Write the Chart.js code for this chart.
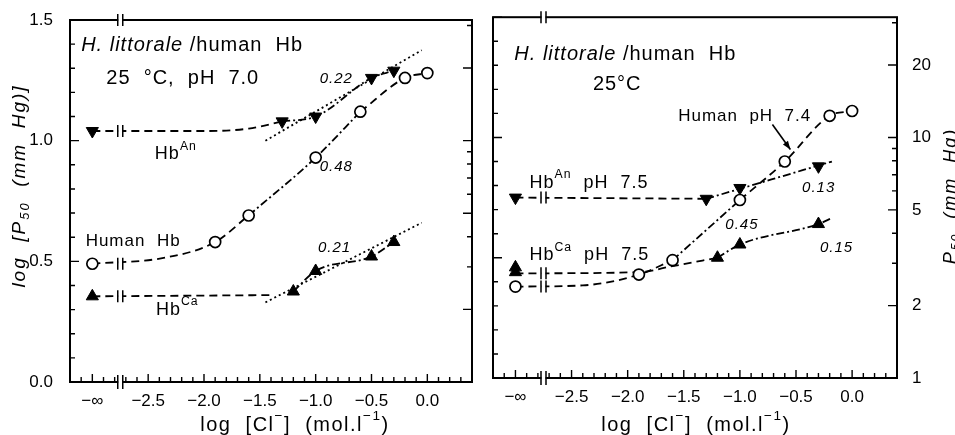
<!DOCTYPE html>
<html>
<head>
<meta charset="utf-8">
<script src="https://cdn.jsdelivr.net/npm/chart.js@4.4.0/dist/chart.umd.min.js"></script>
<style>
html, body { margin: 0; padding: 0; background: #fff; }
#wrap { position: relative; width: 955px; height: 435px; overflow: hidden; }
canvas { position: absolute; top: 0; }
#left { left: 0; }
#right { left: 480px; }
</style>
</head>
<body>
<div id="wrap">
  <canvas id="left" width="480" height="435"></canvas>
  <canvas id="right" width="475" height="435"></canvas>
</div>
<script>
// x = log [Cl-]; NEG_INF is where "-infinity" (no chloride) is plotted
const NEG_INF = -3.0;
const BREAK_X = -2.75;

const xTickValues = [-3.0, -2.5, -2.0, -1.5, -1.0, -0.5, 0.0];
const xTickLabels = ['\u2212\u221e', '\u22122.5', '\u22122.0', '\u22121.5', '\u22121.0', '\u22120.5', '0.0'];
const yTickValues = [0.0, 0.5, 1.0, 1.5];
const yTickLabels = ['0.0', '0.5', '1.0', '1.5'];
const p50TickValues = [1, 2, 5, 10, 20];
const p50TickLabels = ['1', '2', '5', '10', '20'];

// ---- left panel: 25 C, pH 7.0 ----
// HbAn (filled, pointing down)
const anL_x = [NEG_INF, -1.3, -1.0, -0.5, -0.3];
const anL_y = [1.04, 1.08, 1.10, 1.26, 1.29];
// human Hb (open circles)
const huL_x = [NEG_INF, -1.9, -1.6, -1.0, -0.6, -0.2, 0.0];
const huL_y = [0.49, 0.58, 0.69, 0.93, 1.12, 1.26, 1.28];
// HbCa (filled, pointing up)
const caL_x = [NEG_INF, -1.2, -1.0, -0.5, -0.3];
const caL_y = [0.355, 0.375, 0.46, 0.52, 0.58];

// drawn curves
const anL_dashX = [NEG_INF, -2.0, -1.6, -1.3];
const anL_dashY = [1.04, 1.04, 1.05, 1.08];
const anL_fitX = [-1.3, -1.0, -0.5, -0.3];
const anL_fitY = [1.08, 1.10, 1.26, 1.29];
const anL_regX = [-1.45, -0.05];
const anL_regY = [1.00, 1.375];

const huL_dashX = [NEG_INF, -2.35, -1.9, -1.6];
const huL_dashY = [0.49, 0.515, 0.58, 0.69];
const huL_fitX = [-1.6, -1.0, -0.6];
const huL_fitY = [0.69, 0.93, 1.12];
const huL_dash2X = [-0.6, -0.2, 0.0];
const huL_dash2Y = [1.12, 1.26, 1.28];

const caL_dashX = [NEG_INF, -1.4];
const caL_dashY = [0.355, 0.36];
const caL_fitX = [-1.2, -1.0, -0.5, -0.3];
const caL_fitY = [0.375, 0.46, 0.52, 0.58];
const caL_regX = [-1.45, -0.05];
const caL_regY = [0.33, 0.66];

// ---- right panel: 25 C, HbAn/HbCa pH 7.5, human pH 7.4 ----
const anR_x = [NEG_INF, -1.3, -1.0, -0.3];
const anR_y = [0.75, 0.745, 0.79, 0.88];
const huR_x = [NEG_INF, -1.9, -1.6, -1.0, -0.6, -0.2, 0.0];
const huR_y = [0.38, 0.43, 0.49, 0.74, 0.90, 1.09, 1.11];
const caR_x = [NEG_INF, NEG_INF, -1.2, -1.0, -0.3];
const caR_y = [0.46, 0.44, 0.50, 0.555, 0.64];

const anR_dashX = [NEG_INF, -1.3];
const anR_dashY = [0.75, 0.745];
const anR_fitX = [-1.3, -0.18];
const anR_fitY = [0.745, 0.90];

const huR_dashX = [NEG_INF, -2.4, -1.9, -1.6];
const huR_dashY = [0.38, 0.385, 0.43, 0.49];
const huR_fitX = [-1.6, -1.0];
const huR_fitY = [0.49, 0.74];
const huR_dash2X = [-1.0, -0.6, -0.2, 0.0];
const huR_dash2Y = [0.74, 0.90, 1.09, 1.11];

const caR_dashX = [NEG_INF, -1.9, -1.6, -1.2];
const caR_dashY = [0.435, 0.44, 0.465, 0.50];
const caR_fitX = [-1.2, -1.0, -0.3, -0.18];
const caR_fitY = [0.50, 0.555, 0.64, 0.665];

const FONT = '"Liberation Sans", Arial, Helvetica, sans-serif';
const DASH = [8, 5];
const DASHDOT = [8, 3, 2, 3];
const DOT = [2, 3];

function pts(xs, ys) {
    return xs.map((x, i) => ({ x: x, y: ys[i] }));
}

function curve(xs, ys, dash, brk) {
    return {
        data: pts(xs, ys),
        showLine: true,
        borderColor: '#000',
        borderWidth: 1.8,
        borderDash: dash,
        pointRadius: 0,
        cubicInterpolationMode: 'monotone',
        order: 2,
        brk: !!brk
    };
}

function markers(xs, ys, kind) {
    const ds = {
        data: pts(xs, ys),
        borderColor: '#000',
        borderWidth: 1.7,
        order: 1
    };
    if (kind === 'circle') {
        ds.pointStyle = 'circle';
        ds.pointRadius = 5.5;
        ds.backgroundColor = '#fff';
    } else {
        ds.pointStyle = 'triangle';
        ds.pointRadius = 7;
        ds.backgroundColor = '#000';
        ds.borderWidth = 1;
        ds.rotation = kind === 'down' ? 180 : 0;
    }
    return ds;
}

// text with italic / sup / sub parts
function drawRich(ctx, x, y, segs, size, align) {
    let w = 0;
    const parts = segs.map(s => {
        const sz = (s.sup || s.sub) ? size * 0.68 : size;
        const f = (s.it ? 'italic ' : '') + sz + 'px ' + FONT;
        ctx.font = f;
        const pw = ctx.measureText(s.t).width;
        w += pw;
        return { s: s, f: f, w: pw };
    });
    let cx = align === 'center' ? x - w / 2 : x;
    ctx.textBaseline = 'middle';
    ctx.textAlign = 'left';
    parts.forEach(p => {
        ctx.font = p.f;
        let dy = 0;
        if (p.s.sup) dy = -size * 0.42;
        if (p.s.sub) dy = size * 0.3;
        ctx.fillText(p.s.t, cx, y + dy);
        cx += p.w;
    });
}

function drawBreak(ctx, px, py, h) {
    ctx.save();
    ctx.fillStyle = '#fff';
    ctx.fillRect(px - 2, py - h / 2, 4, h);
    ctx.strokeStyle = '#000';
    ctx.lineWidth = 1.5;
    ctx.setLineDash([]);
    ctx.beginPath();
    ctx.moveTo(px - 2.5, py - h / 2); ctx.lineTo(px - 2.5, py + h / 2);
    ctx.moveTo(px + 2.5, py - h / 2); ctx.lineTo(px + 2.5, py + h / 2);
    ctx.stroke();
    ctx.restore();
}

const panelDeco = {
    id: 'panelDeco',
    afterDatasetsDraw(chart, args, opts) {
        const { ctx, chartArea: a, scales } = chart;
        const sx = scales.x, sy = scales.y, sl = scales.yLog;
        ctx.save();
        ctx.strokeStyle = '#000';
        ctx.fillStyle = '#000';
        ctx.setLineDash([]);

        // frame
        ctx.lineWidth = 2;
        ctx.strokeRect(a.left, a.top, a.right - a.left, a.bottom - a.top);

        // inward ticks
        ctx.lineWidth = 1.4;
        ctx.beginPath();
        sx.ticks.forEach(t => {
            const px = sx.getPixelForValue(t.value);
            const major = xTickValues.some(v => Math.abs(v - t.value) < 1e-6);
            ctx.moveTo(px, a.bottom);
            ctx.lineTo(px, a.bottom - (major ? 8 : 5));
        });
        sy.ticks.forEach(t => {
            const py = sy.getPixelForValue(t.value);
            const major = yTickValues.some(v => Math.abs(v - t.value) < 1e-6);
            ctx.moveTo(a.left, py);
            ctx.lineTo(a.left + (major ? 9 : 5), py);
        });
        sl.ticks.forEach(t => {
            const py = sl.getPixelForValue(t.value);
            const major = p50TickValues.indexOf(t.value) >= 0;
            ctx.moveTo(a.right, py);
            ctx.lineTo(a.right - (major ? 9 : 5), py);
        });
        ctx.stroke();

        // axis breaks
        const bx = sx.getPixelForValue(BREAK_X);
        drawBreak(ctx, bx, a.bottom, 14);
        drawBreak(ctx, bx, a.top, 12);

        // breaks on the curves that start at -infinity
        chart.data.datasets.forEach(ds => {
            if (ds.brk) drawBreak(ctx, bx, sy.getPixelForValue(ds.data[0].y), 12);
        });

        // text labels
        ctx.letterSpacing = '1px';
        (opts.notes || []).forEach(n => {
            drawRich(ctx, sx.getPixelForValue(n.x), sy.getPixelForValue(n.y), n.segs, n.size, 'left');
        });

        // arrows
        (opts.arrows || []).forEach(ar => {
            const x1 = sx.getPixelForValue(ar.x1), y1 = sy.getPixelForValue(ar.y1);
            const x2 = sx.getPixelForValue(ar.x2), y2 = sy.getPixelForValue(ar.y2);
            const ang = Math.atan2(y2 - y1, x2 - x1);
            ctx.lineWidth = 1.6;
            ctx.beginPath();
            ctx.moveTo(x1, y1); ctx.lineTo(x2, y2);
            ctx.stroke();
            ctx.beginPath();
            ctx.moveTo(x2, y2);
            ctx.lineTo(x2 - 9 * Math.cos(ang - 0.35), y2 - 9 * Math.sin(ang - 0.35));
            ctx.lineTo(x2 - 9 * Math.cos(ang + 0.35), y2 - 9 * Math.sin(ang + 0.35));
            ctx.closePath();
            ctx.fill();
        });

        // axis titles (canvas pixels)
        (opts.titles || []).forEach(ti => {
            ctx.save();
            ctx.translate(ti.px, ti.py);
            ctx.rotate(ti.rot || 0);
            ctx.letterSpacing = ti.spacing || '0px';
            drawRich(ctx, 0, 0, ti.segs, ti.size, 'center');
            ctx.restore();
        });
        ctx.restore();
    }
};

function labelFor(values, labels, v) {
    const i = values.findIndex(t => Math.abs(t - v) < 1e-6);
    return i >= 0 ? labels[i] : '';
}

function makeChart(id, datasets, cfg) {
    return new Chart(document.getElementById(id), {
        type: 'scatter',
        data: { datasets: datasets },
        options: {
            responsive: false,
            animation: false,
            devicePixelRatio: 1,
            layout: { padding: { top: cfg.top, right: 0, bottom: 0, left: 0 } },
            plugins: {
                legend: { display: false },
                tooltip: { enabled: false },
                panelDeco: { notes: cfg.notes, arrows: cfg.arrows, titles: cfg.titles }
            },
            scales: {
                x: {
                    type: 'linear',
                    min: -3.2,
                    max: 0.4,
                    grid: { display: false },
                    border: { display: false },
                    afterBuildTicks: s => {
                        const list = [];
                        for (let i = -31; i <= 3; i++) list.push({ value: i / 10 });
                        s.ticks = list;
                    },
                    afterFit: s => { s.height = cfg.xHeight; },
                    ticks: {
                        autoSkip: false,
                        maxRotation: 0,
                        padding: 1,
                        color: '#000',
                        font: { family: FONT, size: 17 },
                        callback: v => labelFor(xTickValues, xTickLabels, v)
                    }
                },
                y: {
                    type: 'linear',
                    position: 'left',
                    min: 0,
                    max: 1.5,
                    grid: { display: false },
                    border: { display: false },
                    afterBuildTicks: s => {
                        const list = [];
                        for (let i = 0; i <= 15; i++) list.push({ value: i / 10 });
                        s.ticks = list;
                    },
                    afterFit: s => { s.width = cfg.yWidth; },
                    ticks: {
                        display: cfg.yLabels,
                        autoSkip: false,
                        padding: 9,
                        color: '#000',
                        font: { family: FONT, size: 17 },
                        callback: v => labelFor(yTickValues, yTickLabels, v)
                    }
                },
                yLog: {
                    type: 'logarithmic',
                    position: 'right',
                    min: 1,
                    max: Math.pow(10, 1.5),
                    grid: { display: false },
                    border: { display: false },
                    afterBuildTicks: s => {
                        s.ticks = [1, 2, 3, 4, 5, 6, 7, 8, 9, 10, 20, 30].map(v => ({ value: v }));
                    },
                    afterFit: s => { s.width = cfg.logWidth; },
                    ticks: {
                        display: cfg.logLabels,
                        autoSkip: false,
                        padding: 7,
                        color: '#000',
                        font: { family: FONT, size: 17 },
                        callback: v => labelFor(p50TickValues, p50TickLabels, v)
                    }
                }
            }
        },
        plugins: [panelDeco]
    });
}

const xTitle = [{ t: 'log  [Cl' }, { t: '\u2212', sup: 1 }, { t: ']  (mol.l' }, { t: '\u22121', sup: 1 }, { t: ')' }];

makeChart('left', [
    curve(anL_dashX, anL_dashY, DASH, true),
    curve(anL_fitX, anL_fitY, DASHDOT),
    curve(anL_regX, anL_regY, DOT),
    curve(huL_dashX, huL_dashY, DASH, true),
    curve(huL_fitX, huL_fitY, DASHDOT),
    curve(huL_dash2X, huL_dash2Y, DASH),
    curve(caL_dashX, caL_dashY, DASH, true),
    curve(caL_fitX, caL_fitY, DASHDOT),
    curve(caL_regX, caL_regY, DOT),
    markers(anL_x, anL_y, 'down'),
    markers(huL_x, huL_y, 'circle'),
    markers(caL_x, caL_y, 'up')
], {
    top: 20, xHeight: 53, yWidth: 70, logWidth: 7, yLabels: true, logLabels: false,
    notes: [
        { x: -3.1, y: 1.396, size: 20, segs: [{ t: 'H. littorale', it: 1 }, { t: ' /human  Hb' }] },
        { x: -2.875, y: 1.258, size: 20, segs: [{ t: '25  \u00b0C,  pH  7.0' }] },
        { x: -0.964, y: 1.258, size: 15, segs: [{ t: '0.22', it: 1 }] },
        { x: -2.44, y: 0.946, size: 18, segs: [{ t: 'Hb' }, { t: 'An', sup: 1 }] },
        { x: -0.964, y: 0.892, size: 15, segs: [{ t: '0.48', it: 1 }] },
        { x: -3.06, y: 0.583, size: 17, segs: [{ t: 'Human  Hb' }] },
        { x: -2.43, y: 0.30, size: 18, segs: [{ t: 'Hb' }, { t: 'Ca', sup: 1 }] },
        { x: -0.98, y: 0.554, size: 15, segs: [{ t: '0.21', it: 1 }] }
    ],
    titles: [
        { px: 20, py: 186, rot: -Math.PI / 2, size: 19, spacing: '2px',
          segs: [{ t: 'log  [P', it: 1 }, { t: '50', it: 1, sub: 1 }, { t: '  (mm  Hg)]', it: 1 }] },
        { px: 295, py: 425, size: 20, spacing: '1.5px', segs: xTitle }
    ]
});

makeChart('right', [
    curve(anR_dashX, anR_dashY, DASH, true),
    curve(anR_fitX, anR_fitY, DASHDOT),
    curve(huR_dashX, huR_dashY, DASH, true),
    curve(huR_fitX, huR_fitY, DASHDOT),
    curve(huR_dash2X, huR_dash2Y, DASH),
    curve(caR_dashX, caR_dashY, DASH, true),
    curve(caR_fitX, caR_fitY, DASHDOT),
    markers(anR_x, anR_y, 'down'),
    markers(huR_x, huR_y, 'circle'),
    markers(caR_x, caR_y, 'up')
], {
    top: 17, xHeight: 57, yWidth: 13, logWidth: 58, yLabels: false, logLabels: true,
    notes: [
        { x: -3.01, y: 1.346, size: 20, segs: [{ t: 'H. littorale', it: 1 }, { t: ' /human  Hb' }] },
        { x: -2.31, y: 1.22, size: 20, segs: [{ t: '25\u00b0C' }] },
        { x: -1.55, y: 1.0875, size: 17, segs: [{ t: 'Human  pH  7.4' }] },
        { x: -2.875, y: 0.8125, size: 18, segs: [{ t: 'Hb' }, { t: 'An', sup: 1 }, { t: '  pH  7.5' }] },
        { x: -0.446, y: 0.79, size: 15, segs: [{ t: '0.13', it: 1 }] },
        { x: -1.13, y: 0.6375, size: 15, segs: [{ t: '0.45', it: 1 }] },
        { x: -2.875, y: 0.5125, size: 18, segs: [{ t: 'Hb' }, { t: 'Ca', sup: 1 }, { t: '  pH  7.5' }] },
        { x: -0.286, y: 0.54, size: 15, segs: [{ t: '0.15', it: 1 }] }
    ],
    arrows: [{ x1: -0.71, y1: 1.054, x2: -0.55, y2: 0.95 }],
    titles: [
        { px: 471, py: 196, rot: -Math.PI / 2, size: 18, spacing: '2px',
          segs: [{ t: 'P', it: 1 }, { t: '50', it: 1, sub: 1 }, { t: '  (mm  Hg)', it: 1 }] },
        { px: 216, py: 425, size: 20, spacing: '1.5px', segs: xTitle }
    ]
});
</script>
</body>
</html>
